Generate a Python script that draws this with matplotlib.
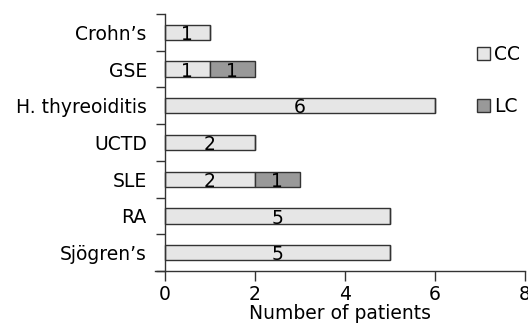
import numpy as np
import matplotlib
matplotlib.use("Agg")
import matplotlib.pyplot as plt

categories = ["Crohn\u2019s", "GSE", "H. thyreoiditis", "UCTD", "SLE", "RA", "Sj\u00f6gren\u2019s"]
cc = [1, 1, 6, 2, 2, 5, 5]
lc = [0, 1, 0, 0, 1, 0, 0]

plt.rcParams['font.family'] = ['DejaVu Sans']
FS = 13.5

fig = plt.figure(figsize=(5.28, 3.26), dpi=100)
ax = fig.add_axes([155/528, 55/326, 370/528, 257/326])

y = np.arange(len(categories))
h = 0.42
b1 = ax.barh(y, cc, height=h, color="#e6e6e6", edgecolor="#333333", linewidth=1, label="CC")
b2 = ax.barh(y, lc, left=cc, height=h, color="#999999", edgecolor="#333333", linewidth=1, label="LC")

# numbers inside the segments
for i in range(len(categories)):
    ax.text(cc[i] / 2, y[i] + 0.06, str(cc[i]), ha="center", va="center", fontsize=FS)
    if lc[i] > 0:
        ax.text(cc[i] + lc[i] / 2, y[i] + 0.06, str(lc[i]), ha="center", va="center", fontsize=FS)

ax.set_xlim(-0.22, 8)
ax.set_ylim(len(categories) - 0.5, -0.5)
ax.spines['left'].set_position(('data', 0))
for s in ['top', 'right']:
    ax.spines[s].set_visible(False)
for s in ['left', 'bottom']:
    ax.spines[s].set_color("#333333")
    ax.spines[s].set_linewidth(1)

ax.set_xticks([0, 2, 4, 6, 8])
ax.tick_params(axis='x', direction='out', length=7, width=1, color="#333333", labelsize=FS, pad=3)
# y ticks sit on the boundaries, labels on the centres
ax.set_yticks(np.arange(-0.5, len(categories), 1))
ax.set_yticklabels([])
ax.set_yticks(y, minor=True)
ax.set_yticklabels(categories, minor=True)
ax.tick_params(axis='y', which='major', direction='out', length=6.5, width=1, color="#333333")
ax.tick_params(axis='y', which='minor', length=0, labelsize=FS, pad=13)

ax.set_xlabel("Number of patients", fontsize=FS, labelpad=0)

ax.legend(handles=[b1, b2], loc="upper left", bbox_to_anchor=(0.845, 0.915), frameon=False,
          fontsize=FS, handlelength=0.7, handleheight=0.7, handletextpad=0.2,
          labelspacing=1.75, borderpad=0)

fig.savefig("out.png", dpi=100)
